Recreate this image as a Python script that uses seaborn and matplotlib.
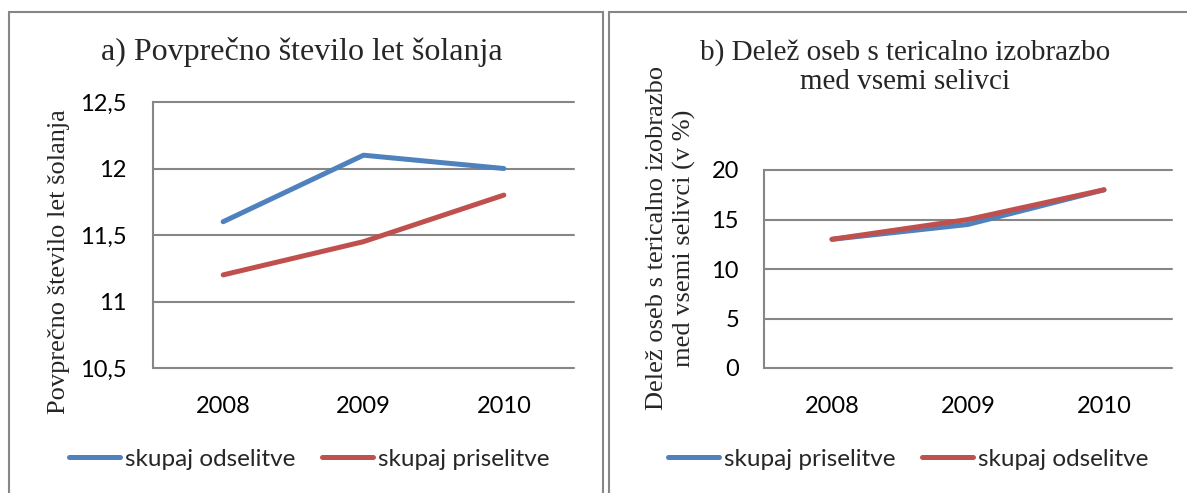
import matplotlib
matplotlib.use("Agg")
import matplotlib.pyplot as plt
import seaborn as sns
import pandas as pd
from matplotlib.patches import Rectangle
from matplotlib.lines import Line2D

years = ["2008", "2009", "2010"]
a_odselitve = [11.6, 12.1, 12.0]
a_priselitve = [11.2, 11.45, 11.8]
b_priselitve = [13.0, 14.5, 18.0]
b_odselitve = [13.0, 15.0, 18.0]

a_ticks = [10.5, 11.0, 11.5, 12.0, 12.5]
a_ticklabels = ["10,5", "11", "11,5", "12", "12,5"]
b_ticks = [0, 5, 10, 15, 20]

title_a = "a) Povprečno število let šolanja"
ylabel_a = "Povprečno število let šolanja"
title_b = "b) Delež oseb s tericalno izobrazbo\nmed vsemi selivci"
ylabel_b = "Delež oseb s tericalno izobrazbo\nmed vsemi selivci (v %)"

BLUE = "#4F81BD"
RED = "#C0504D"
GRID = "#868686"
SERIF = ["Liberation Serif", "DejaVu Serif"]

sns.set_theme(style="white")
plt.rcParams["font.family"] = ["Lato", "DejaVu Sans"]

W, H = 1187, 493
fig = plt.figure(figsize=(W / 100, H / 100), dpi=100)
fig.patch.set_facecolor("white")


def fx(px):
    return px / W


def fy(py):
    return 1 - py / H


# panel borders
fig.patches.append(Rectangle((fx(8.5), fy(500)), fx(602.5) - fx(8.5), fy(12) - fy(500),
                             transform=fig.transFigure, fill=False, edgecolor=GRID, lw=1.5))
fig.patches.append(Rectangle((fx(608.5), fy(500)), fx(1200) - fx(608.5), fy(12) - fy(500),
                             transform=fig.transFigure, fill=False, edgecolor=GRID, lw=1.5))


def make_axes(x0, x1, ytop, ybot):
    return fig.add_axes([fx(x0), fy(ybot), fx(x1) - fx(x0), fy(ytop) - fy(ybot)])


def style(ax, ticks, labels, lo, hi, ypad):
    ax.set_xlim(0, 3)
    ax.set_ylim(lo, hi)
    ax.set_xticks([0.5, 1.5, 2.5])
    ax.set_xticklabels(years)
    ax.set_yticks(ticks)
    ax.set_yticklabels(labels)
    ax.tick_params(axis="both", length=0, labelsize=17, colors="black")
    ax.tick_params(axis="y", pad=ypad)
    ax.tick_params(axis="x", pad=20)
    for s in ["top", "right", "bottom"]:
        ax.spines[s].set_visible(False)
    ax.spines["left"].set_color(GRID)
    ax.spines["left"].set_linewidth(1.5)
    for t in ticks:
        ax.axhline(t, color=GRID, lw=1.5, zorder=0, clip_on=False)
    ax.set_xlabel("")
    ax.set_ylabel("")
    ax.patch.set_alpha(0)


xpos = [0.5, 1.5, 2.5]

# panel a
axa = make_axes(153, 574, 102, 368)
dfa = pd.DataFrame({
    "x": xpos * 2,
    "y": a_odselitve + a_priselitve,
    "serija": ["skupaj odselitve"] * 3 + ["skupaj priselitve"] * 3,
})
sns.lineplot(data=dfa, x="x", y="y", hue="serija", palette=[BLUE, RED], lw=3.6,
             ax=axa, legend=False, solid_capstyle="round")
style(axa, a_ticks, a_ticklabels, 10.5, 12.5, 19)
fig.text(fx(59), fy(262), ylabel_a, family=SERIF, fontsize=19, rotation=90,
         ha="center", va="center")
fig.text(fx(302), fy(52), title_a, family=SERIF, fontsize=23,
         ha="center", va="center")

# panel b
axb = make_axes(764, 1172, 170, 368)
dfb = pd.DataFrame({
    "x": xpos * 2,
    "y": b_priselitve + b_odselitve,
    "serija": ["skupaj priselitve"] * 3 + ["skupaj odselitve"] * 3,
})
sns.lineplot(data=dfb, x="x", y="y", hue="serija", palette=[BLUE, RED], lw=3.6,
             ax=axb, legend=False, solid_capstyle="round")
style(axb, b_ticks, [str(t) for t in b_ticks], 0, 20, 18)
fig.text(fx(671), fy(238), ylabel_b, family=SERIF, fontsize=19, rotation=90,
         ha="center", va="center", linespacing=1.25)
fig.text(fx(905), fy(67), title_b, family=SERIF, fontsize=21,
         ha="center", va="center", linespacing=1.15)

# legends
for labels, cols, cx in [
    (["skupaj odselitve", "skupaj priselitve"], [BLUE, RED], 309.5),
    (["skupaj priselitve", "skupaj odselitve"], [BLUE, RED], 908),
]:
    handles = [Line2D([], [], color=c, lw=3.6, solid_capstyle="round") for c in cols]
    fig.legend(handles, labels, loc="center", bbox_to_anchor=(fx(cx), fy(459)),
               ncol=2, frameon=False, fontsize=17.5, handlelength=2.1,
               handletextpad=0.2, columnspacing=1.1, borderaxespad=0)

fig.savefig("out.png", dpi=100, facecolor="white")
